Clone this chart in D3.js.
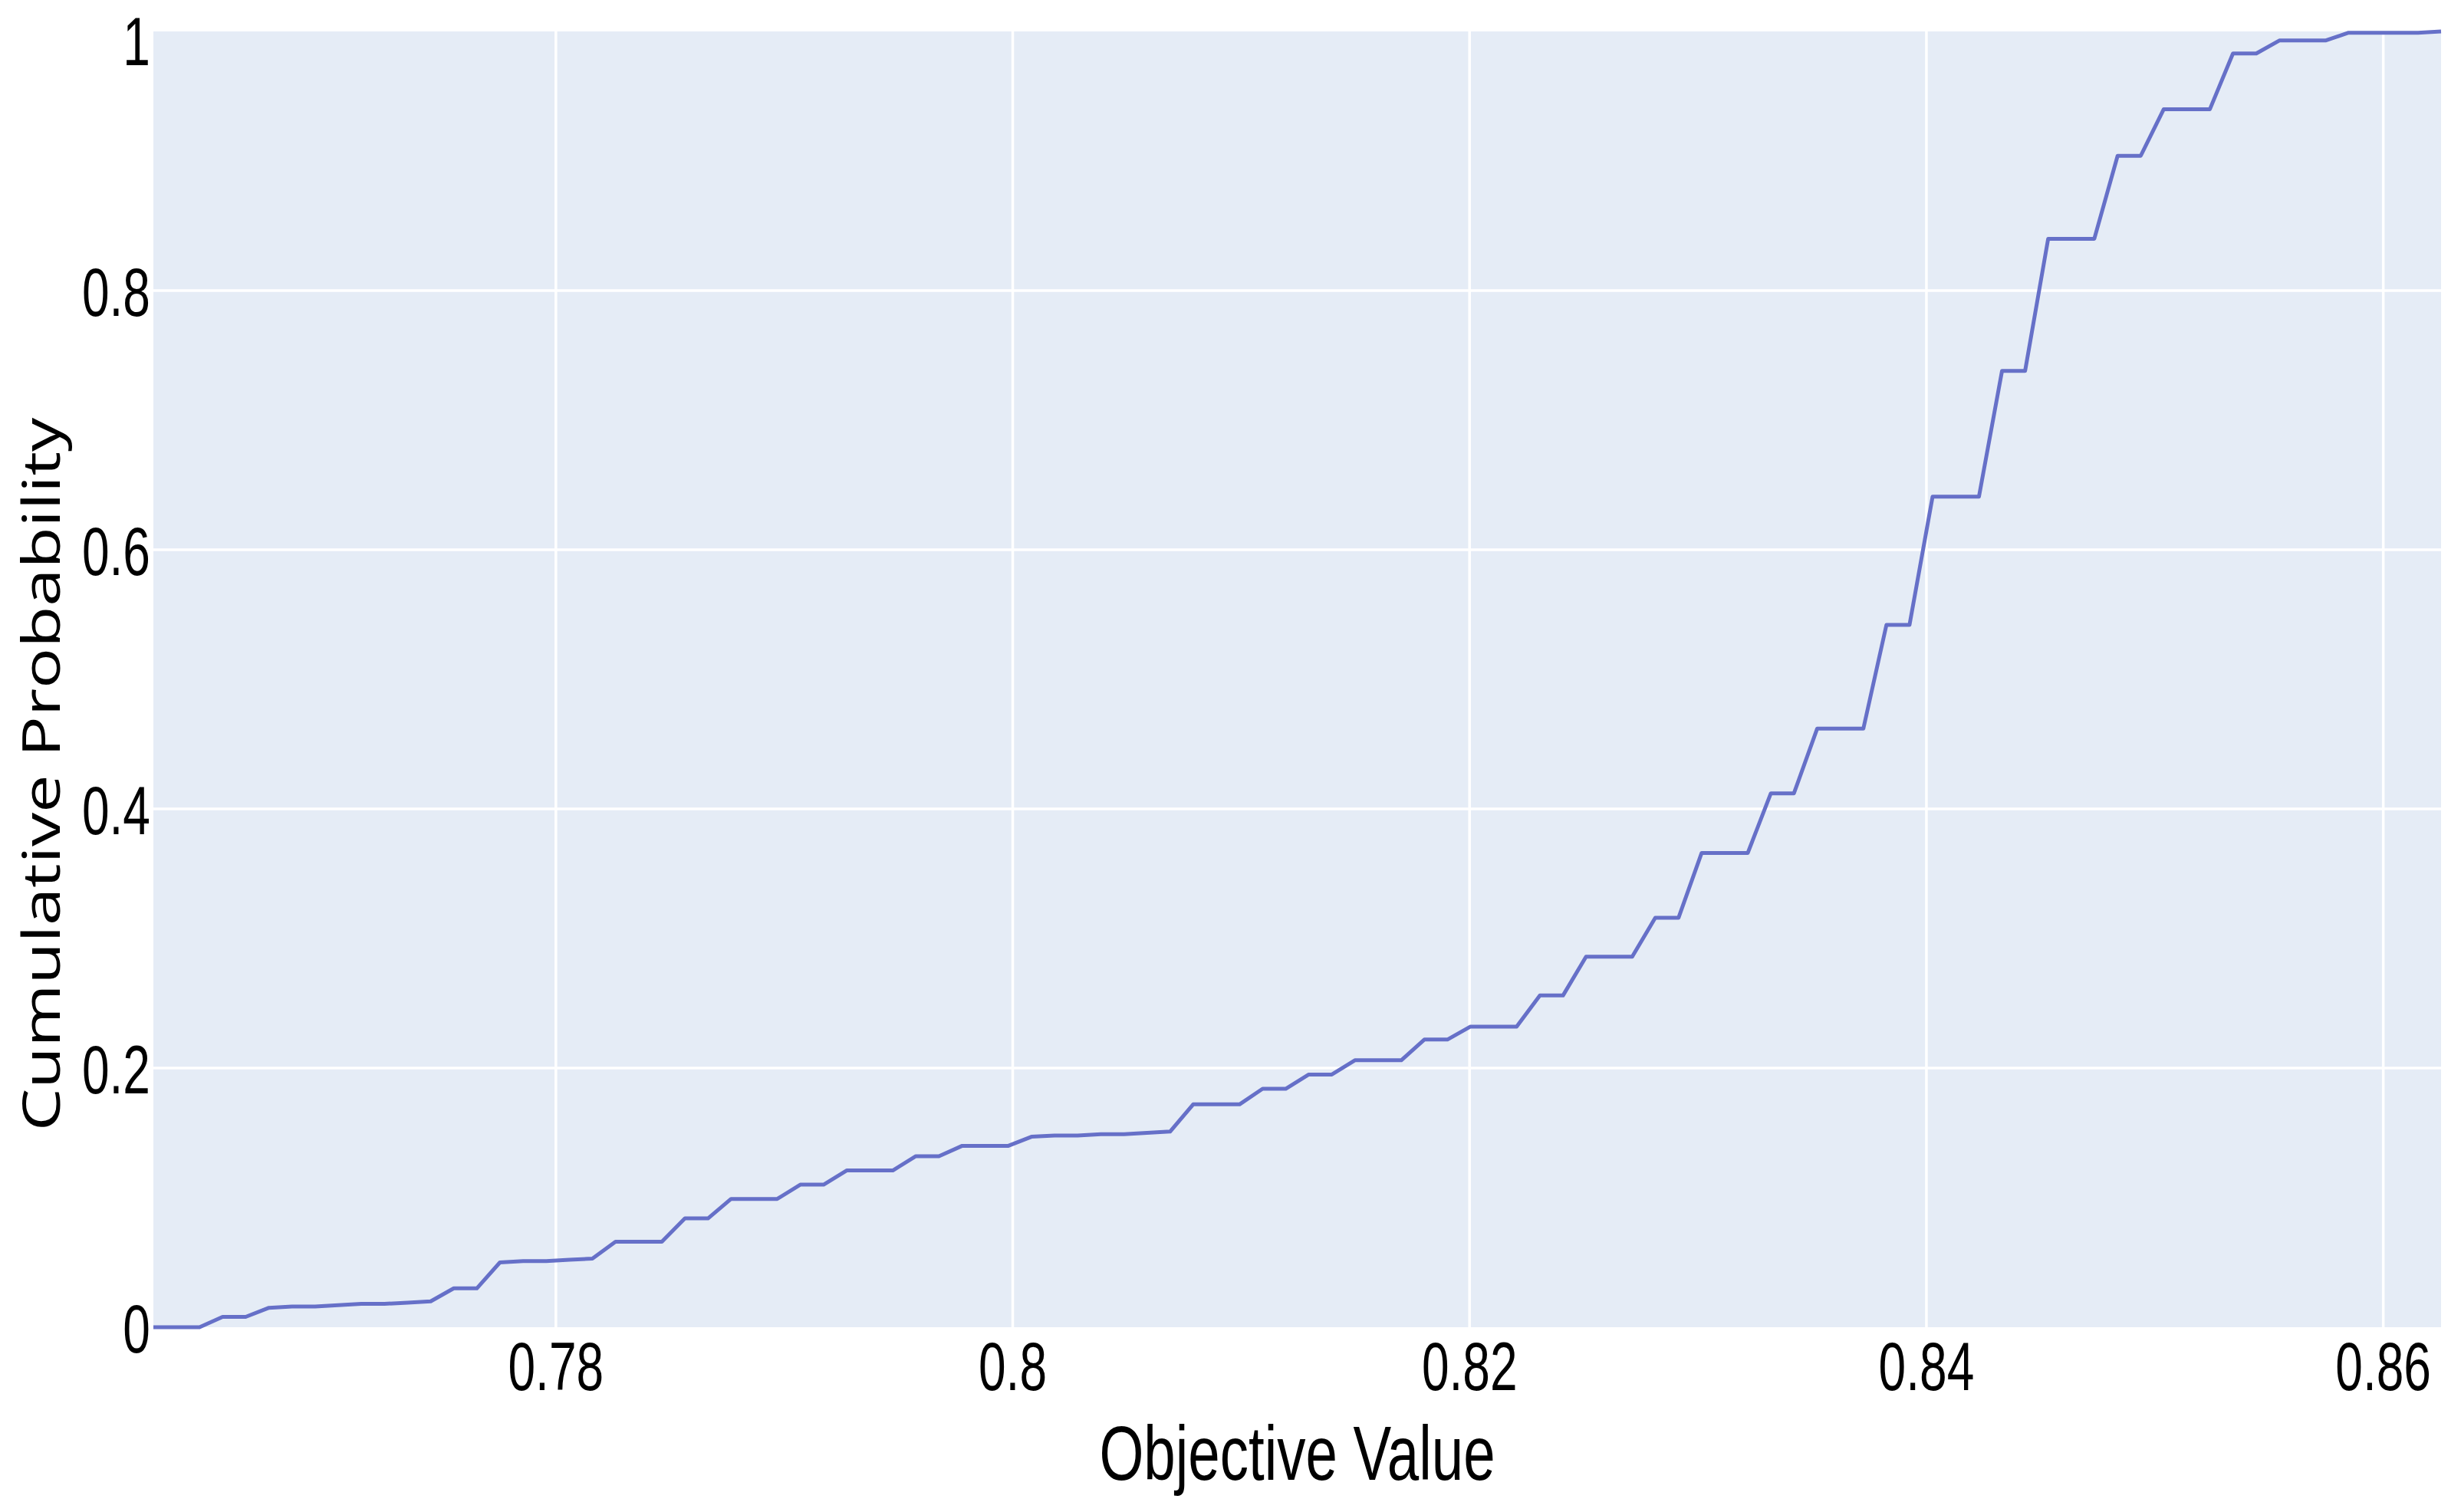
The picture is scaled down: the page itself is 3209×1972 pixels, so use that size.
<!DOCTYPE html>
<html>
<head>
<meta charset="utf-8">
<script src="https://cdn.jsdelivr.net/npm/d3@7"></script>
<style>
  html, body { margin: 0; padding: 0; background: #ffffff; }
  svg { display: block; }
</style>
</head>
<body>
<script>
// ---- data ----
const objectiveValues = [
  0.76238, 0.76339, 0.76440, 0.76541, 0.76642, 0.76744, 0.76845, 0.76946, 0.77047, 0.77148,
  0.77250, 0.77351, 0.77452, 0.77553, 0.77654, 0.77755, 0.77857, 0.77958, 0.78059, 0.78160,
  0.78261, 0.78362, 0.78464, 0.78565, 0.78666, 0.78767, 0.78868, 0.78969, 0.79070, 0.79172,
  0.79273, 0.79374, 0.79475, 0.79576, 0.79677, 0.79779, 0.79880, 0.79981, 0.80082, 0.80183,
  0.80284, 0.80386, 0.80487, 0.80588, 0.80689, 0.80790, 0.80891, 0.80993, 0.81094, 0.81195,
  0.81296, 0.81397, 0.81498, 0.81600, 0.81701, 0.81802, 0.81903, 0.82004, 0.82105, 0.82206,
  0.82308, 0.82409, 0.82510, 0.82611, 0.82712, 0.82813, 0.82915, 0.83016, 0.83117, 0.83218,
  0.83319, 0.83420, 0.83522, 0.83623, 0.83724, 0.83825, 0.83926, 0.84027, 0.84128, 0.84230,
  0.84331, 0.84432, 0.84533, 0.84634, 0.84735, 0.84837, 0.84938, 0.85039, 0.85140, 0.85241,
  0.85342, 0.85444, 0.85545, 0.85646, 0.85747, 0.85848, 0.85949, 0.86051, 0.86152, 0.86253
];
const cumulativeProbability = [
  0.000, 0.000, 0.000, 0.008, 0.008, 0.015, 0.016, 0.016, 0.017, 0.018,
  0.018, 0.019, 0.020, 0.030, 0.030, 0.050, 0.051, 0.051, 0.052, 0.053,
  0.066, 0.066, 0.066, 0.084, 0.084, 0.099, 0.099, 0.099, 0.110, 0.110,
  0.121, 0.121, 0.121, 0.132, 0.132, 0.140, 0.140, 0.140, 0.147, 0.148,
  0.148, 0.149, 0.149, 0.150, 0.151, 0.172, 0.172, 0.172, 0.184, 0.184,
  0.195, 0.195, 0.206, 0.206, 0.206, 0.222, 0.222, 0.232, 0.232, 0.232,
  0.256, 0.256, 0.286, 0.286, 0.286, 0.316, 0.316, 0.366, 0.366, 0.366,
  0.412, 0.412, 0.462, 0.462, 0.462, 0.542, 0.542, 0.641, 0.641, 0.641,
  0.738, 0.738, 0.840, 0.840, 0.840, 0.904, 0.904, 0.940, 0.940, 0.940,
  0.983, 0.983, 0.993, 0.993, 0.993, 0.999, 0.999, 0.999, 0.999, 1.000
];
const xTickValues = [0.78, 0.80, 0.82, 0.84, 0.86];
const xTickLabels = ["0.78", "0.8", "0.82", "0.84", "0.86"];
const yTickValues = [0, 0.2, 0.4, 0.6, 0.8, 1];
const yTickLabels = ["0", "0.2", "0.4", "0.6", "0.8", "1"];
const xTitle = "Objective Value";
const yTitle = "Cumulative Probability";

// ---- layout ----
const W = 3209, H = 1972;
const plot = { left: 200, right: 3183, top: 41, bottom: 1731 };
const TICK_FONT = "'Liberation Sans', Arial, sans-serif";
const TITLE_FONT = "'Open Sans', 'Liberation Sans', sans-serif";
const SX_TICK = 0.72;   // horizontal squeeze of the reference's tick lettering
const SX_TITLE = 0.745;

const svg = d3.select("body").append("svg")
  .attr("width", W).attr("height", H)
  .attr("viewBox", `0 0 ${W} ${H}`);

const x = d3.scaleLinear()
  .domain([d3.min(objectiveValues), d3.max(objectiveValues)])
  .range([plot.left, plot.right]);
const y = d3.scaleLinear()
  .domain([0, 1])
  .range([plot.bottom, plot.top]);

// plot background
svg.append("rect")
  .attr("x", plot.left).attr("y", plot.top)
  .attr("width", plot.right - plot.left)
  .attr("height", plot.bottom - plot.top)
  .attr("fill", "#E5ECF6");

// grid lines
svg.append("g").selectAll("line")
  .data(xTickValues).join("line")
  .attr("x1", d => x(d)).attr("x2", d => x(d))
  .attr("y1", plot.top).attr("y2", plot.bottom)
  .attr("stroke", "#ffffff").attr("stroke-width", 3.5);

svg.append("g").selectAll("line")
  .data(yTickValues.filter(v => v > 0 && v < 1)).join("line")
  .attr("x1", plot.left).attr("x2", plot.right)
  .attr("y1", d => y(d)).attr("y2", d => y(d))
  .attr("stroke", "#ffffff").attr("stroke-width", 3.5);

// the curve
const pts = objectiveValues.map((v, i) => [v, cumulativeProbability[i]]);
const line = d3.line().x(d => x(d[0])).y(d => y(d[1])).curve(d3.curveLinear);
svg.append("path")
  .datum(pts)
  .attr("d", line)
  .attr("fill", "none")
  .attr("stroke", "#6670c8")
  .attr("stroke-width", 5)
  .attr("stroke-linejoin", "round");

// x tick labels
const xt = svg.append("g");
xTickValues.forEach((v, i) => {
  xt.append("g")
    .attr("transform", `translate(${x(v)},1813) scale(${SX_TICK},1)`)
    .append("text")
    .attr("text-anchor", "middle")
    .attr("font-family", TICK_FONT)
    .attr("font-size", 89)
    .attr("fill", "#000")
    .text(xTickLabels[i]);
});

// y tick labels (top label kept inside the page like the reference)
const yt = svg.append("g");
yTickValues.forEach((v, i) => {
  const base = Math.max(y(v) + 33, 85);
  yt.append("g")
    .attr("transform", `translate(196,${base}) scale(${SX_TICK},1)`)
    .append("text")
    .attr("text-anchor", "end")
    .attr("font-family", TICK_FONT)
    .attr("font-size", 89)
    .attr("fill", "#000")
    .text(yTickLabels[i]);
});

// x title
svg.append("g")
  .attr("transform", `translate(${(plot.left + plot.right) / 2},1930) scale(${SX_TITLE},1)`)
  .append("text")
  .attr("text-anchor", "middle")
  .attr("font-family", TICK_FONT)
  .attr("font-size", 100)
  .attr("fill", "#000")
  .text(xTitle);

// y title (rotated, stretched along its length like the reference)
svg.append("g")
  .attr("transform", `translate(78,1010) rotate(-90) scale(1.32,1)`)
  .append("text")
  .attr("text-anchor", "middle")
  .attr("font-family", TITLE_FONT)
  .attr("font-size", 67)
  .attr("fill", "#000")
  .text(yTitle);
</script>
</body>
</html>
